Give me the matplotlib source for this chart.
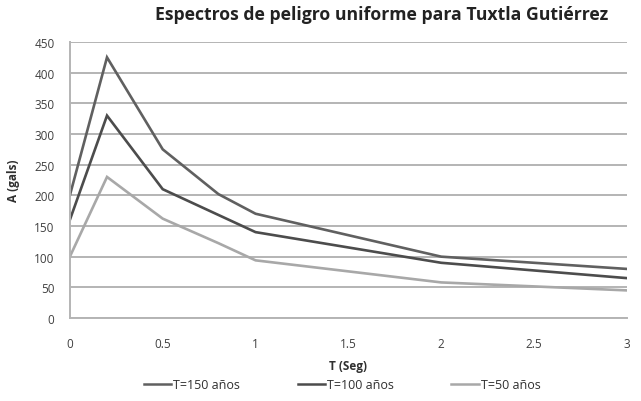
import matplotlib.pyplot as plt
from matplotlib.lines import Line2D

periodo = [0, 0.2, 0.5, 0.8, 1, 2, 3]
a_150 = [200, 425, 275, 202, 170, 100, 80]
a_100 = [160, 330, 210, 168, 140, 90, 65]
a_50 = [100, 230, 162, 122, 94, 58, 45]
etiquetas = ["T=150 años", "T=100 años", "T=50 años"]
colores = ["#606060", "#4c4c4c", "#a8a8a8"]

plt.rcParams["font.family"] = ["Open Sans", "DejaVu Sans"]

fig = plt.figure(figsize=(6.41, 4.02), dpi=100)
ax = fig.add_axes([0.109, 0.2065, 0.869, 0.6865])

for serie, color in zip([a_150, a_100, a_50], colores):
    ax.plot(periodo, serie, color=color, lw=1.9, solid_joinstyle="miter")

ax.set_xlim(0, 3)
ax.set_ylim(0, 450)
ax.set_yticks(range(0, 451, 50))
ax.set_xticks([0, 0.5, 1, 1.5, 2, 2.5, 3])
ax.set_xticklabels(["0", "0.5", "1", "1.5", "2", "2.5", "3"])
ax.yaxis.grid(True, color="#b4b4b4", lw=1.4)
ax.set_axisbelow(True)
for side in ["top", "right"]:
    ax.spines[side].set_visible(False)
for side in ["left", "bottom"]:
    ax.spines[side].set_color("#b4b4b4")
    ax.spines[side].set_linewidth(1.4)
ax.tick_params(length=0, labelsize=8.5, colors="#404040", pad=11)
ax.tick_params(axis="x", pad=14)

ax.set_xlabel("T (Seg)", fontsize=8.5, fontweight="bold", color="#303030", labelpad=6)
ax.set_ylabel("A (gals)", fontsize=8.5, fontweight="bold", color="#303030", labelpad=10)

fig.text(0.596, 0.962, "Espectros de peligro uniforme para Tuxtla Gutiérrez",
         ha="center", va="center", fontsize=12.7, fontweight="bold", color="#222222")

handles = [Line2D([0], [0], color=c, lw=1.8) for c in colores]
fig.legend(handles, etiquetas, loc="center", bbox_to_anchor=(0.534, 0.04), ncol=3,
           frameon=False, fontsize=9, handlelength=2.2, handletextpad=0.15,
           columnspacing=4.6, labelcolor="#303030")

fig.savefig("out.png", dpi=100)
